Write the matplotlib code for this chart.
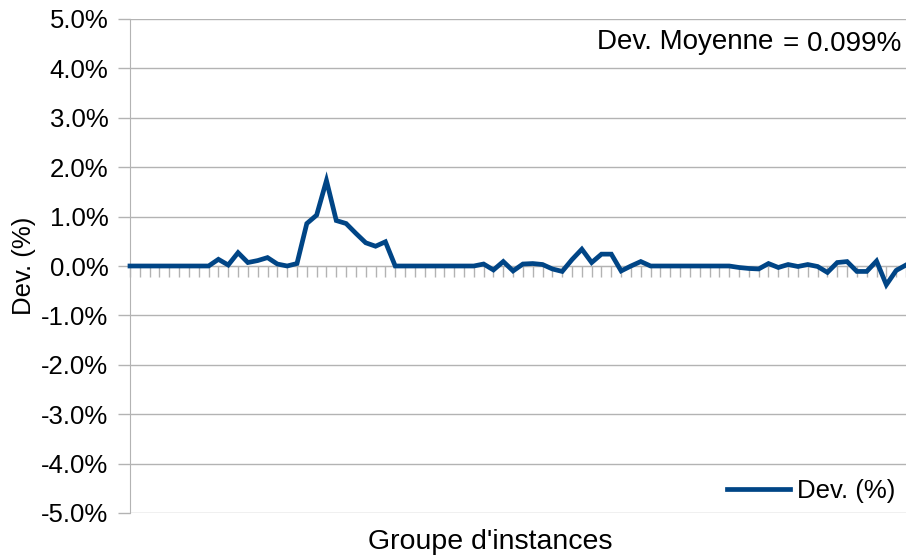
import matplotlib
matplotlib.use("Agg")
import matplotlib.pyplot as plt
from matplotlib.ticker import FuncFormatter, MultipleLocator

plt.rcParams['font.family'] = ['Liberation Sans', 'DejaVu Sans']

# Deviation values (%) per instance group, 80 groups
dev = [0.0, 0.0, 0.0, 0.0, 0.0, 0.0, 0.0, 0.0, 0.0, 0.135,
       0.02, 0.27, 0.07, 0.11, 0.17, 0.04, 0.0, 0.05, 0.86, 1.03,
       1.73, 0.92, 0.86, 0.66, 0.47, 0.40, 0.49, 0.0, 0.0, 0.0,
       0.0, 0.0, 0.0, 0.0, 0.0, 0.0, 0.04, -0.08, 0.09, -0.10,
       0.04, 0.05, 0.03, -0.06, -0.11, 0.13, 0.34, 0.07, 0.24, 0.24,
       -0.10, 0.0, 0.09, 0.0, 0.0, 0.0, 0.0, 0.0, 0.0, 0.0,
       0.0, 0.0, -0.03, -0.05, -0.06, 0.05, -0.03, 0.03, -0.01, 0.03,
       -0.01, -0.13, 0.07, 0.09, -0.11, -0.11, 0.10, -0.38, -0.09, 0.02]
x = list(range(len(dev)))
mean_label = "Dev. Moyenne"
mean_value = "= 0.099%"
series_name = "Dev. (%)"
x_title = "Groupe d'instances"
y_title = "Dev. (%)"

fig = plt.figure(figsize=(9.06, 5.58), dpi=100)
ax = fig.add_axes([130/906, 45/558, 776/906, 494/558])

grid_c = '#b3b3b3'
ax.set_ylim(-5, 5)
ax.set_xlim(0, len(dev) - 1)
ax.yaxis.set_major_locator(MultipleLocator(1))
ax.yaxis.set_major_formatter(FuncFormatter(lambda v, p: f"{v:.1f}%"))
ax.grid(axis='y', color=grid_c, linewidth=1)
ax.set_axisbelow(True)

for s in ['top', 'right']:
    ax.spines[s].set_visible(False)
ax.spines['left'].set_color(grid_c)
ax.spines['bottom'].set_position(('data', 0))
ax.spines['bottom'].set_color(grid_c)
ax.set_xticks(x)
ax.set_xticklabels([])
ax.tick_params(axis='x', direction='out', length=8, color=grid_c, width=1)
ax.tick_params(axis='y', direction='out', length=8.5, color=grid_c, width=1,
               labelsize=18.5, pad=7, labelcolor='black')

ax.plot(x, dev, color='#004586', linewidth=3.4, label=series_name,
        solid_joinstyle='miter', zorder=3, clip_on=False)

ax.legend(loc='lower right', frameon=False, fontsize=18.5, handlelength=2.45,
          handletextpad=0.3, bbox_to_anchor=(1.0, 0.0), borderaxespad=0.0)

fig.text(773/906, 1 - 42/558, mean_label, ha='right', va='center', fontsize=20)
fig.text(783/906, 1 - 44/558, mean_value, ha='left', va='center', fontsize=20)

fig.text(490/906, 1 - 542/558, x_title, ha='center', va='center', fontsize=20.5)
fig.text(24/906, 1 - 266/558, y_title, ha='center', va='center', fontsize=18.5, rotation=90)

fig.savefig('out.png', dpi=100)
